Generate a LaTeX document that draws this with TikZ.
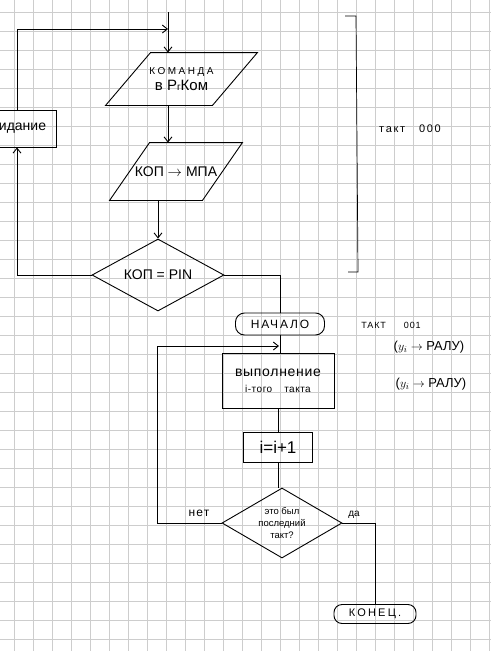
\documentclass[tikz,border=0pt]{standalone}
\usepackage{fontspec}
\setmainfont{Liberation Sans}
\usetikzlibrary{shapes.geometric,arrows.meta}
\definecolor{gridc}{RGB}{205,205,205}
\newcommand{\fs}[1]{\fontsize{#1}{#1}\selectfont}
\newcommand{\lsp}[1]{\addfontfeature{LetterSpace=#1}}
\begin{document}
\begin{tikzpicture}[x=1pt,y=-1pt,line width=0.9pt,
  >={Straight Barb[length=5pt,width=8pt]},
  box/.style={draw,rectangle,align=center,inner sep=1pt},
  paratext/.style={rectangle,align=center,inner sep=0pt},
  dec/.style={draw,diamond,align=center,inner sep=0pt},
  term/.style={draw,rectangle,rounded corners=9pt,inner sep=0pt},
  lbl/.style={inner sep=0pt}]
\useasboundingbox (0,0) rectangle (491,651);
\clip (0,0) rectangle (491,651);
\fill[white] (0,0) rectangle (491,651);
% grid paper
\foreach \i in {0,...,25} \draw[gridc,line width=0.6pt] (14+19*\i,0) -- (14+19*\i,651);
\foreach \j in {0,...,34} \draw[gridc,line width=0.6pt] (0,12+19*\j) -- (491,12+19*\j);

% upper part
\node[paratext,minimum width=151,minimum height=52] (p1) at (181.5,79)
  {{\fs{10}\lsp{25}КОМАНДА}\\[3pt]{\fs{15}в Р{\fs{10}г}Ком}};
\draw (p1.south west) -- ([xshift=45pt]p1.north west) -- (p1.north east)
  -- ([xshift=-45pt]p1.south east) -- cycle;
\node[paratext,minimum width=132,minimum height=57] (p2) at (176,171.5)
  {\fs{14}КОП $\to$ МПА};
\draw (p2.south west) -- ([xshift=40pt]p2.north west) -- (p2.north east)
  -- ([xshift=-40pt]p2.south east) -- cycle;
\node[dec,shape aspect=1.83,minimum width=132,minimum height=72] (d1) at (158,275) {\fs{14}КОП = PIN};
\node[box,minimum width=84,minimum height=37] (wait) at (14,128.5) {\fs{14}ожидание};

\coordinate (top) at (168,12);
\coordinate (join) at (168,29);
\coordinate (lx) at (17,0);
\draw[->] (top) -- (top |- p1.north);
\draw[->] (top |- p1.south) -- (top |- p2.north);
\draw[->] (d1.north |- p2.south) -- (d1.north);
\draw[->] (d1.west) -| (lx |- wait.south);
\draw[->] (lx |- wait.north) |- (join);

% bracket "такт 000"
\draw[line width=0.7pt] (345,16) -- (356,16) -- (358,272) -- (348,272);
\node[lbl] (t0) at (410,129) {\fs{11}\lsp{15}такт\hspace{14pt}000};

% lower part
\node[term,minimum width=89,minimum height=22] (start) at (280,324) {\fs{12}\lsp{15}НАЧАЛО};
\node[lbl] (t1) at (391,325) {\fs{9}\lsp{10}ТАКТ\hspace{18pt}001};
\node[lbl] (r1) at (429,347) {\fs{13}($y_i\to$ РАЛУ)};
\node[lbl] (r2) at (431,384) {\fs{13}($y_i\to$ РАЛУ)};
\node[box,minimum width=112,minimum height=55] (b1) at (278,380.5)
  {{\fs{14}\lsp{5}выполнение}\\[4pt]{\fs{10}\lsp{5}i-того\hspace{12pt}такта}};
\node[box,minimum width=69,minimum height=30] (b2) at (278,447) {\fs{17}i=i+1};
\node[dec,shape aspect=1.7,minimum width=120,minimum height=70] (d2) at (282,523)
  {\fs{9.5}это был\\\fs{9.5}последний\\\fs{9.5}такт?};
\node[term,minimum width=82,minimum height=19,rounded corners=8pt] (end) at (375,614) {\fs{11}\lsp{20}КОНЕЦ.};
\node[lbl] (no) at (199,513) {\fs{12}\lsp{10}нет};
\node[lbl] (yes) at (354,515) {\fs{10}да};

\coordinate (j2) at (279,346);
\coordinate (lp) at (157,0);
\draw (d1.east) -| (start.north);
\draw (start.south) -- (start.south |- b1.north);
\draw (b1.south -| b2.north) -- (b2.north);
\draw (b2.south) -- (b2.south |- d2.north);
\draw[->] (d2.west) -| (lp |- j2) -- (j2);
\draw (d2.east) -| (end.north);
\end{tikzpicture}
\end{document}
